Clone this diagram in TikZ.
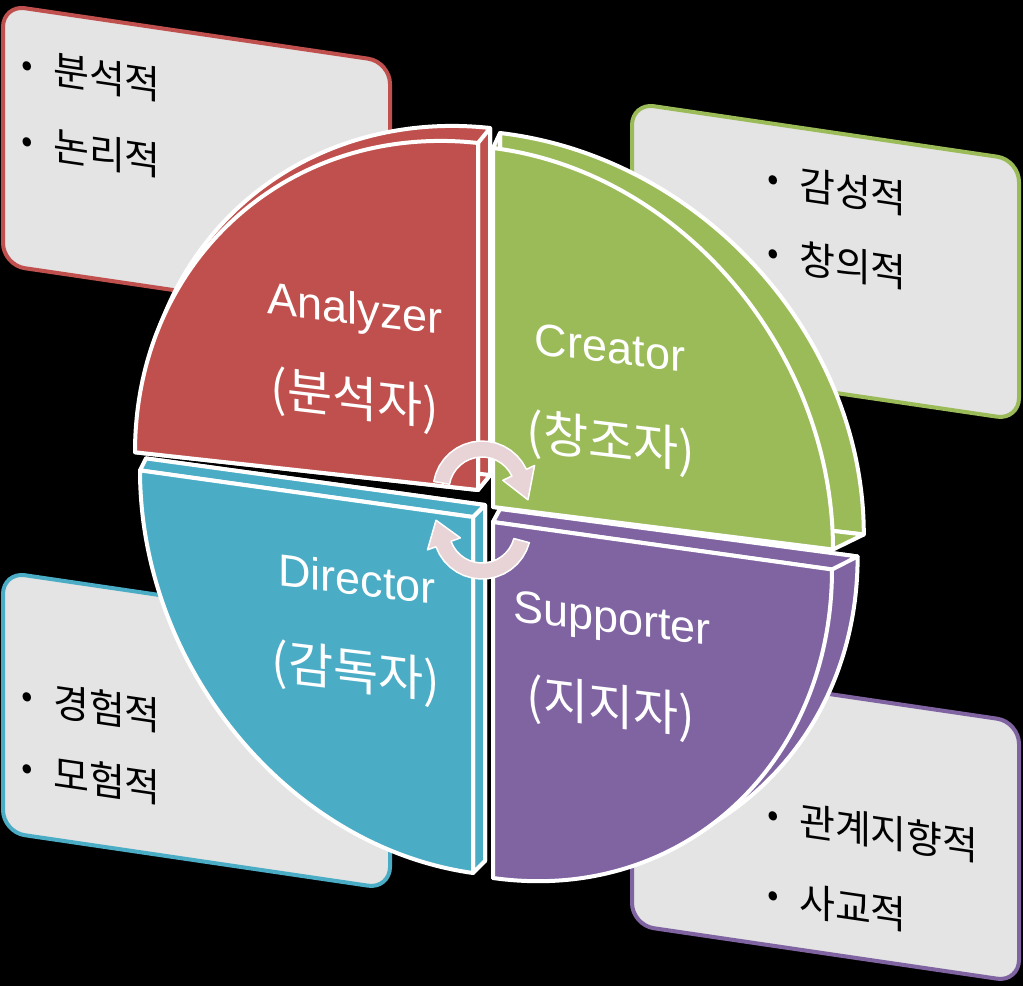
\documentclass[tikz,border=0pt]{standalone}
\usepackage{fontspec}
\setmainfont{Liberation Sans}
\newfontfamily\kr{Noto Sans CJK KR}
\definecolor{anared}{RGB}{192,80,77}
\definecolor{cregreen}{RGB}{155,187,89}
\definecolor{dirblue}{RGB}{75,172,198}
\definecolor{suppurple}{RGB}{128,100,162}
\definecolor{cardgray}{RGB}{228,228,228}
\definecolor{turnpink}{RGB}{232,212,214}

% quarter disc, corner at the origin
\newcommand{\quartpath}[2]{(0,0) -- (#1,0) .. controls (#1,0.5523*#2) and (0.5523*#1,#2) .. (0,#2) -- cycle}
\newcommand{\bul}{\makebox[32pt][l]{\fontsize{34}{34}\selectfont\raisebox{4pt}{•}}}

\begin{document}
\begin{tikzpicture}[x=1pt,y=-1pt,
  card/.style={fill=cardgray,line width=4pt,rounded corners=22pt},
  item/.style={anchor=west,inner sep=0pt,transform shape,font=\kr\fontsize{39}{39}\selectfont},
  face/.style={draw=white,line width=4pt,line join=round},
  role/.style={anchor=base,inner sep=0pt,text=white,yslant=-0.12,font=\fontsize{45}{45}\selectfont},
  rolekr/.style={role,font=\kr\fontsize{49}{49}\selectfont},
  turnarrow/.style={fill=turnpink,draw=white,line width=1.5pt,line join=round}]
 \fill[black] (0,0) rectangle (1023,986);
 \useasboundingbox (0,0) rectangle (1023,986);

 % cards behind the pie
 \foreach \cx/\cy/\col in {3/5/anared,632/103/cregreen,3/572/dirblue,632/665/suppurple}
   {\begin{scope}[shift={(\cx,\cy)},yslant=-0.147]
      \draw[card,draw=\col] (0,0) rectangle (387,260);
    \end{scope}}
 \begin{scope}[shift={(3,5)},yslant=-0.147]
   \node[item] (ana1) at (18,57) {\bul 분석적};
   \node[item] (ana2) at (18,133) {\bul 논리적};
 \end{scope}
 \begin{scope}[shift={(632,103)},yslant=-0.147]
   \node[item] (cre1) at (135,56) {\bul 감성적};
   \node[item] (cre2) at (135,130) {\bul 창의적};
 \end{scope}
 \begin{scope}[shift={(3,572)},yslant=-0.147]
   \node[item] (dir1) at (18,121) {\bul 경험적};
   \node[item] (dir2) at (18,193) {\bul 모험적};
 \end{scope}
 \begin{scope}[shift={(632,665)},yslant=-0.147]
   \node[item] (sup1) at (135,130) {\bul 관계지향적};
   \node[item] (sup2) at (135,210) {\bul 사교적};
 \end{scope}

 % the four wedges: back face, side faces, front face
 \foreach \nm/\col/\cx/\cy/\sk/\rx/\ry/\sx/\sy/\xo/\ddx/\xs/\ddy in
   {red/anared/478/490/0.11/343/347/-1/-1/135/6/1.018/-15,
    blue/dirblue/473/517/0.14/333/356/-1/1/140/6/1.018/-12,
    green/cregreen/493/507/0.125/340/359/1/-1/493/7/1.07/-15,
    purple/suppurple/493/522/0.14/339/356/1/1/493/7/1.055/-13}
   {\begin{scope}[shift={(\xo+\ddx,\ddy)},xscale=\xs,shift={(-\xo,0)}]
      \begin{scope}[shift={(\cx,\cy)},yslant=-\sk,xscale=\sx,yscale=\sy]
        \path (0,0) coordinate (\nm O2) (\rx,0) coordinate (\nm H2) (0,\ry) coordinate (\nm V2);
        \filldraw[face,fill=\col] \quartpath{\rx}{\ry};
      \end{scope}
    \end{scope}
    \begin{scope}[shift={(\cx,\cy)},yslant=-\sk,xscale=\sx,yscale=\sy]
      \path (0,0) coordinate (\nm O) (\rx,0) coordinate (\nm H) (0,\ry) coordinate (\nm V);
      \filldraw[face,fill=\col] (\nm O) -- (\nm V) -- (\nm V2) -- (\nm O2) -- cycle;
      \filldraw[face,fill=\col] (\nm O) -- (\nm H) -- (\nm H2) -- (\nm O2) -- cycle;
      \filldraw[face,fill=\col] \quartpath{\rx}{\ry};
    \end{scope}}

 % role names
 \node[role] (analyzer) at (355,324) {Analyzer};
 \node[rolekr] (analyzerkr) at (355,416) {(분석자)};
 \node[role] (creator) at (610,363) {Creator};
 \node[rolekr] (creatorkr) at (611,459) {(창조자)};
 \node[role] (director) at (357,595) {Director};
 \node[rolekr] (directorkr) at (356,689) {(감독자)};
 \node[role] (supporter) at (612,633) {Supporter};
 \node[rolekr] (supporterkr) at (611,724) {(지지자)};

 % turning arrows in the middle
 \begin{scope}[shift={(482,490)}]
   \filldraw[turnarrow] plot[domain=190:335,samples=16] (\x:49) -- (335:58) -- (12:47)
     -- (335:23) -- plot[domain=335:190,samples=16] (\x:33) -- cycle;
 \end{scope}
 \begin{scope}[shift={(482,530)}]
   \filldraw[turnarrow] plot[domain=15:160,samples=16] (\x:49) -- (160:58) -- (192:47)
     -- (160:23) -- plot[domain=160:15,samples=16] (\x:33) -- cycle;
 \end{scope}
\end{tikzpicture}
\end{document}
